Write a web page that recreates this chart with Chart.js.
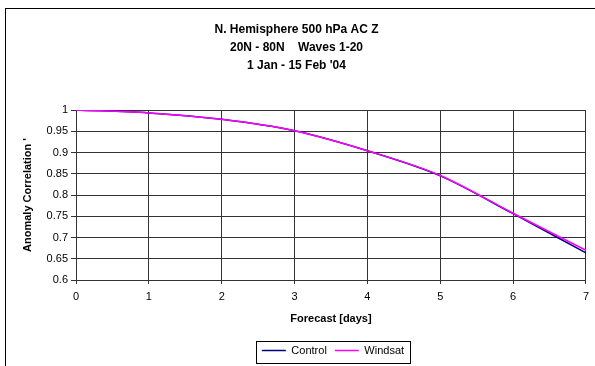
<!DOCTYPE html>
<html>
<head>
<meta charset="utf-8">
<script src="https://cdn.jsdelivr.net/npm/chart.js@4.4.1/dist/chart.umd.min.js"></script>
<style>
  html, body { margin: 0; padding: 0; background: #fff; }
  canvas { display: block; }
</style>
</head>
<body>
<canvas id="graficoAC" width="595" height="366"></canvas>
<script>
// Dados
const dias = ['0', '1', '2', '3', '4', '5', '6', '7'];
const controlo = [1.0, 0.993, 0.978, 0.951, 0.904, 0.845, 0.756, 0.664];
const windsat = [1.0, 0.993, 0.978, 0.951, 0.904, 0.846, 0.757, 0.670];
const titulo = ['N. Hemisphere 500 hPa AC Z', '20N - 80N    Waves 1-20', "1 Jan - 15 Feb '04"];

const fonte = 'Liberation Sans, Arial, sans-serif';

// Moldura exterior e caixa da legenda
const molduraPlugin = {
    id: 'moldura',
    beforeDraw(chart) {
        const ctx = chart.ctx;
        ctx.save();
        ctx.fillStyle = '#fff';
        ctx.fillRect(0, 0, chart.width, chart.height);
        ctx.strokeStyle = '#000';
        ctx.lineWidth = 1;
        ctx.strokeRect(5.5, 8.5, 700, 500);
        ctx.restore();
    },
    afterLayout(chart) {
        // desloca a legenda para o centro da área do gráfico
        const lg = chart.legend;
        const centro = (chart.chartArea.left + chart.chartArea.right) / 2 + 2;
        const dx = centro - (lg.left + lg.right) / 2;
        lg.left += dx;
        lg.right += dx;
    },
    afterDraw(chart) {
        const lg = chart.legend;
        if (!lg || !lg.lineWidths) return;
        const pad = lg.options.labels.padding;
        const w = lg.lineWidths[0];
        const x0 = (lg.left + pad + lg.right - w) / 2;
        const ctx = chart.ctx;
        ctx.save();
        ctx.strokeStyle = '#000';
        ctx.lineWidth = 1;
        ctx.strokeRect(Math.round(x0 - 6) + 0.5, 341.5, Math.round(w + 4), 22);
        ctx.restore();
    }
};

new Chart(document.getElementById('graficoAC'), {
    type: 'line',
    data: {
        labels: dias,
        datasets: [
            {
                label: 'Control',
                data: controlo,
                borderColor: '#000080',
                backgroundColor: '#000080',
                borderWidth: 1.5,
                pointRadius: 0,
                order: 2,
                cubicInterpolationMode: 'monotone'
            },
            {
                label: 'Windsat',
                data: windsat,
                borderColor: '#ff00ff',
                backgroundColor: '#ff00ff',
                borderWidth: 1.5,
                pointRadius: 0,
                order: 1,
                cubicInterpolationMode: 'monotone'
            }
        ]
    },
    options: {
        responsive: false,
        animation: false,
        layout: { padding: { left: 6, right: 8, top: 0, bottom: 0 } },
        plugins: {
            tooltip: { enabled: false },
            title: {
                display: true,
                text: titulo,
                color: '#000',
                font: { family: fonte, size: 12, weight: 'bold', lineHeight: 1.5 },
                padding: { top: 21, bottom: 35 }
            },
            legend: {
                position: 'bottom',
                labels: {
                    color: '#000',
                    font: { family: fonte, size: 11 },
                    usePointStyle: true,
                    pointStyle: 'line',
                    pointStyleWidth: 24,
                    padding: 8,
                    sort: (a, b) => a.datasetIndex - b.datasetIndex
                }
            }
        },
        scales: {
            x: {
                type: 'category',
                offset: false,
                grid: { color: '#333', lineWidth: 1, tickLength: 4, drawTicks: true },
                border: { color: '#333' },
                ticks: { color: '#000', font: { family: fonte, size: 11 }, padding: 6, maxRotation: 0 },
                title: {
                    display: true,
                    text: 'Forecast [days]',
                    color: '#000',
                    font: { family: fonte, size: 11, weight: 'bold' },
                    padding: { top: 0, bottom: 11.4 }
                },
                afterFit(scale) { scale.height = 57; }
            },
            y: {
                min: 0.6,
                max: 1,
                grid: { color: '#333', lineWidth: 1, tickLength: 5 },
                border: { color: '#333' },
                ticks: {
                    stepSize: 0.05,
                    color: '#000',
                    font: { family: fonte, size: 11 },
                    padding: 3,
                    callback: v => String(Number(v.toFixed(2)))
                },
                title: {
                    display: true,
                    text: "Anomaly Correlation '",
                    color: '#000',
                    font: { family: fonte, size: 11, weight: 'bold' },
                    padding: { top: 15, bottom: 0 }
                },
                afterFit(scale) { scale.width = 70; }
            }
        }
    },
    plugins: [molduraPlugin]
});
</script>
</body>
</html>
